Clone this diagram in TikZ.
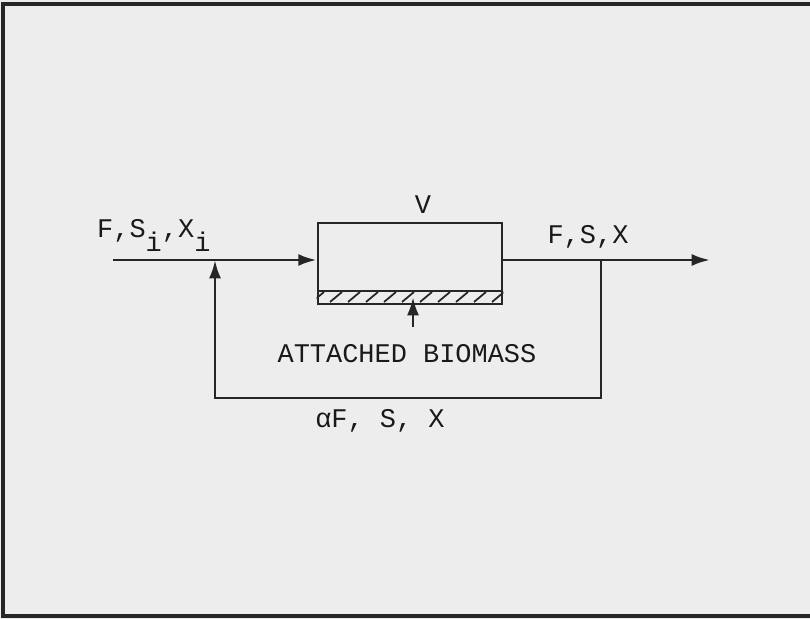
\documentclass[tikz,border=0pt]{standalone}
\usepackage{fontspec}
\setmainfont{Liberation Mono}
\usetikzlibrary{positioning, arrows.meta, calc}

\begin{document}
\begin{tikzpicture}[
    x=0.03cm, y=-0.03cm,
    >={Latex[length=5.5mm, width=3.6mm]},
    line/.style={draw=black!85, line width=2.4pt},
    arrow/.style={line, ->},
    lbl/.style={font=\fontsize{23}{26}\selectfont, text=black!90, inner sep=0pt},
    reactor/.style={rectangle, line, minimum width=5.52cm, minimum height=2.43cm, inner sep=0pt},
    film/.style={rectangle, line, minimum width=5.52cm, minimum height=0.39cm, inner sep=0pt},
]

% Page background and frame
\fill[black!7] (0,0) rectangle (810,619);
\useasboundingbox (0,0) rectangle (810,619);
\draw[line, line width=2.6pt] (812,4) -- (3,4) -- (3,616) -- (812,616);

% Reactor with attached biomass layer
\node[reactor] (tank) at (410,263.5) {};
\node[film, anchor=south] (film) at (tank.south) {};
\begin{scope}
\clip (film.south west) rectangle (film.north east);
\foreach \x in {312,330,...,510}
    \draw[black!85, line width=1.5pt] (\x,302) -- ++(12,-10);
\end{scope}

% Stream end points
\coordinate (in) at (113,260);
\coordinate (out) at (710,260);
\coordinate (split) at (601,260);
\coordinate (mix) at (215,260);
\coordinate (bio) at (413,327);

% Main flow
\draw[arrow] (in) -- (tank.west |- in);
\draw[arrow] (tank.east |- out) -- (out);

% Recycle loop
\draw[arrow] (split) -- ++(0,138) -| (mix);

% Pointer to attached biomass
\draw[arrow] (bio) -- ++(0,-30);

% Labels
\node[lbl] (vol) at (423,205) {V};
\node[lbl, anchor=base west] (feed) at (97,237) {F,S\raisebox{-0.55em}{i},X\raisebox{-0.55em}{i}};
\node[lbl] (effl) at (588,237) {F,S,X};
\node[lbl] (biolbl) at (407,354) {ATTACHED BIOMASS};
\node[lbl] (recy) at (380,421) {αF, S, X};

\end{tikzpicture}
\end{document}
